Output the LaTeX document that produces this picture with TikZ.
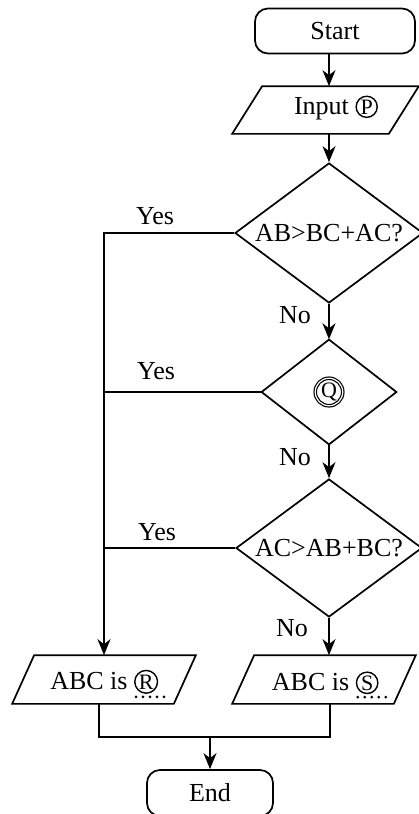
\documentclass[tikz,border=0pt]{standalone}
\usepackage{fontspec}
\setmainfont{Liberation Serif}
\usetikzlibrary{shapes.geometric,arrows.meta,calc}
\tikzset{cletter/.style={draw,circle,anchor=center,minimum width=0pt,minimum height=0pt,minimum size=0pt,line width=1.4pt,inner sep=0.8pt,font=\fontsize{22}{22}\selectfont}}
\newcommand{\circlet}[1]{\tikz[baseline=(cl.base)]\node[cletter](cl){#1};}
\newcommand{\dcirclet}[1]{\tikz[baseline=(cl.base)]\node[cletter,double,double distance=1.2pt,line width=1.2pt,inner sep=1.2pt](cl){#1};}
\newcommand{\circdots}[1]{\tikz[baseline=(cl.base)]{\node[cletter](cl){#1};
  \draw[line width=3pt,line cap=round,dash pattern=on 0pt off 7pt] ($(cl.west |- cl.south)+(2pt,-3pt)$) -- ($(cl.east |- cl.south)+(10pt,-3pt)$);}}
\begin{document}
\begin{tikzpicture}[x=1pt,y=-1pt,line width=1.7pt,
  txt/.style={font=\fontsize{26}{30}\selectfont, inner sep=0pt},
  term/.style={draw, rounded corners=13pt, minimum width=160pt, minimum height=45pt, txt},
  dec/.style={draw, diamond, inner sep=0pt, txt},
  iobox/.style={inner sep=0pt},
  arr/.style={-{Stealth[length=16pt,width=13pt,inset=5pt]}},
  lbl/.style={txt, anchor=base}]
\useasboundingbox (0,0) rectangle (419,814);

% terminals
\node[term] (start) at (335,31) {Start};
\node[term, minimum width=126pt, minimum height=46pt] (end) at (210,793) {End};

% input box
\node[iobox, minimum width=185pt, minimum height=46pt] (inpbox) at (325.5,110) {};
\draw ($(inpbox.north west)+(30,0)$) -- (inpbox.north east) -- ($(inpbox.south east)+(-30,0)$) -- (inpbox.south west) -- cycle;
\node[lbl] (inp) at (336,114) {Input \circlet{P}};

% decisions
\node[dec, minimum width=188pt, minimum height=140pt, aspect=1.34] (d1) at (329,233) {AB>BC+AC?};
\node[dec, minimum width=135pt, minimum height=105pt] (d2) at (329,392) {\dcirclet{Q}};
\node[dec, minimum width=186pt, minimum height=138pt, aspect=1.34] (d3) at (329,548) {AC>AB+BC?};

% output boxes
\node[iobox, minimum width=182pt, minimum height=47pt] (rbox) at (104,679.5) {};
\draw ($(rbox.north west)+(22,0)$) -- (rbox.north east) -- ($(rbox.south east)+(-22,0)$) -- (rbox.south west) -- cycle;
\node[lbl] (rt) at (110,689) {ABC is \circdots{R}};

\node[iobox, minimum width=182pt, minimum height=47pt] (sbox) at (324,679.5) {};
\draw ($(sbox.north west)+(22,0)$) -- (sbox.north east) -- ($(sbox.south east)+(-22,0)$) -- (sbox.south west) -- cycle;
\node[lbl] (st) at (331,690) {ABC is \circdots{S}};

% labels
\node[lbl] (y1) at (155,224) {Yes};
\node[lbl] (y2) at (156,379) {Yes};
\node[lbl] (y3) at (157,540) {Yes};
\node[lbl] (n1) at (295,323) {No};
\node[lbl] (n2) at (295,465) {No};
\node[lbl] (n3) at (292,636) {No};

% connectors
\draw[arr] (start.south -| d1.north) -- (inpbox.north -| d1.north);
\draw[arr] (inpbox.south -| d1.north) -- (d1.north);
\draw[arr] (d1.south) -- (d2.north);
\draw[arr] (d2.south) -- (d3.north);
\draw[arr] (d3.south) -- (d3.south |- sbox.north);
\draw[arr] (d1.west) -| (rbox.north);
\draw (d2.west) -- (d2.west -| rbox.north);
\draw (d3.west) -- (d3.west -| rbox.north);
\coordinate (j) at (210,737);
\draw ([xshift=-5pt]rbox.south) |- (j) -| ([xshift=6pt]sbox.south);
\draw[arr] (j) -- (end.north);
\end{tikzpicture}
\end{document}
